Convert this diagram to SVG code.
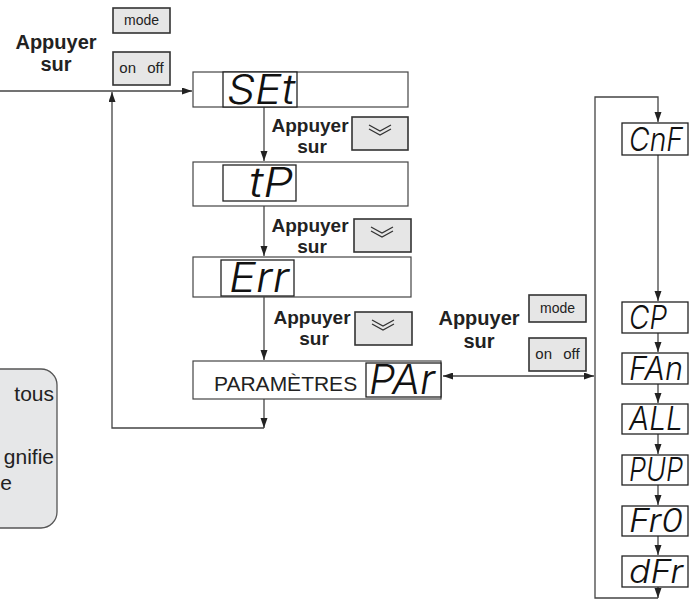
<svg xmlns="http://www.w3.org/2000/svg" width="697" height="608" viewBox="0 0 697 608">
<style>
.bg{fill:#ffffff}
.outer{fill:#ffffff;stroke:#444;stroke-width:1.2}
.disp{fill:#ffffff;stroke:#222;stroke-width:1.3}
.btn{fill:#e6e6e6;stroke:#333;stroke-width:1.6}
.note{fill:#e6e7e8;stroke:#555;stroke-width:1.3}
.conn{fill:none;stroke:#444;stroke-width:1.3}
.lbl{font-family:"Liberation Sans",Arial,sans-serif;font-weight:bold;font-size:19px;fill:#222;text-anchor:middle}
.btxt{font-family:"Liberation Sans",Arial,sans-serif;font-size:14px;fill:#222;text-anchor:middle}
.plain{font-family:"Liberation Sans",Arial,sans-serif;font-size:21px;fill:#222}
.seg{font-family:Inter,"Open Sans",sans-serif;font-weight:300;font-style:oblique;font-size:41px;fill:#111}
.segs{font-family:Inter,"Open Sans",sans-serif;font-weight:300;font-style:oblique;font-size:33px;fill:#111}
.chev{fill:none;stroke:#333;stroke-width:1.3}
</style>
<defs>
<marker id="ah" markerUnits="userSpaceOnUse" markerWidth="11" markerHeight="8" refX="10" refY="3.5" orient="auto">
<path d="M0,0 L10,3.5 L0,7 z" fill="#222"/>
</marker>
<marker id="ahs" markerUnits="userSpaceOnUse" markerWidth="11" markerHeight="8" refX="0" refY="3.5" orient="auto">
<path d="M10,0 L0,3.5 L10,7 z" fill="#222"/>
</marker>
</defs>
<rect class="bg" x="0" y="0" width="697" height="608"/>

<g id="note">
<rect class="note" x="-20" y="369" width="77" height="159" rx="16"/>
<text class="plain" x="54" y="401" text-anchor="end">tous</text>
<text class="plain" x="54" y="464" text-anchor="end">gnifie</text>
<text class="plain" x="12" y="490" text-anchor="end">e</text>
</g>

<g id="connectors">
<path class="conn" d="M0,91 H192" marker-end="url(#ah)"/>
<path class="conn" d="M264,428 H112 V92" marker-end="url(#ah)"/>
<path class="conn" d="M264,107 V161" marker-end="url(#ah)"/>
<path class="conn" d="M264,206 V256" marker-end="url(#ah)"/>
<path class="conn" d="M264,297 V360" marker-end="url(#ah)"/>
<path class="conn" d="M264,399 V428" marker-end="url(#ah)"/>
<path class="conn" d="M443,376 H594" marker-start="url(#ahs)" marker-end="url(#ah)"/>
<path class="conn" d="M658,598 H595 V97 H658 V122" marker-end="url(#ah)"/>
<path class="conn" d="M658,155 V301" marker-end="url(#ah)"/>
<path class="conn" d="M658,333 V352" marker-end="url(#ah)"/>
<path class="conn" d="M658,384 V403" marker-end="url(#ah)"/>
<path class="conn" d="M658,434 V454" marker-end="url(#ah)"/>
<path class="conn" d="M658,485 V505" marker-end="url(#ah)"/>
<path class="conn" d="M658,536 V555" marker-end="url(#ah)"/>
<path class="conn" d="M658,587 V598" marker-end="url(#ah)"/>
</g>

<g id="label-top">
<text class="lbl" x="56" y="49" style="font-size:20px">Appuyer</text>
<text class="lbl" x="56" y="71" style="font-size:20px">sur</text>
</g>
<g id="btn-mode-top">
<rect class="btn" x="113" y="8" width="57" height="25"/>
<text class="btxt" x="141.5" y="25">mode</text>
</g>
<g id="btn-onoff-top">
<rect class="btn" x="113" y="52" width="57" height="33"/>
<text class="btxt" x="141.5" y="73" style="font-size:15px;word-spacing:7px">on off</text>
</g>

<g id="n-set">
<rect class="outer" x="193" y="72" width="215" height="35"/>
<rect class="disp" x="223" y="72" width="74" height="35"/>
<text class="seg" x="227" y="104" textLength="68" lengthAdjust="spacingAndGlyphs">SEt</text>
</g>
<g id="step-1">
<text class="lbl" x="310" y="132">Appuyer</text>
<text class="lbl" x="312" y="153">sur</text>
<rect class="btn" x="352" y="117" width="56" height="33"/>
<polyline class="chev" points="369,125 380,131 391,125"/>
<polyline class="chev" points="369,129 380,135 391,129"/>
</g>

<g id="n-tp">
<rect class="outer" x="193" y="162" width="215" height="44"/>
<rect class="disp" x="223" y="165" width="73" height="36"/>
<text class="seg" x="249" y="197" textLength="44" lengthAdjust="spacingAndGlyphs">tP</text>
</g>
<g id="step-2">
<text class="lbl" x="310" y="232">Appuyer</text>
<text class="lbl" x="312" y="253">sur</text>
<rect class="btn" x="354" y="219" width="57" height="33"/>
<polyline class="chev" points="371,227 382,233 393,227"/>
<polyline class="chev" points="371,231 382,237 393,231"/>
</g>

<g id="n-err">
<rect class="outer" x="193" y="257" width="218" height="40"/>
<rect class="disp" x="221" y="260" width="73" height="36"/>
<text class="seg" x="229" y="292" textLength="60" lengthAdjust="spacingAndGlyphs">Err</text>
</g>
<g id="step-3">
<text class="lbl" x="312" y="324">Appuyer</text>
<text class="lbl" x="314" y="345">sur</text>
<rect class="btn" x="355" y="312" width="57" height="33"/>
<polyline class="chev" points="372,320 383,326 394,320"/>
<polyline class="chev" points="372,324 383,330 394,324"/>
</g>

<g id="n-par">
<rect class="outer" x="193" y="361" width="248" height="38"/>
<text class="plain" x="214" y="391">PARAMÈTRES</text>
<rect class="disp" x="366" y="363" width="75" height="34"/>
<text class="seg" x="369" y="394" textLength="66" lengthAdjust="spacingAndGlyphs">PAr</text>
</g>

<g id="label-right">
<text class="lbl" x="479" y="325" style="font-size:20px">Appuyer</text>
<text class="lbl" x="479" y="348" style="font-size:20px">sur</text>
</g>
<g id="btn-mode-right">
<rect class="btn" x="529" y="295" width="57" height="27"/>
<text class="btxt" x="557.5" y="313">mode</text>
</g>
<g id="btn-onoff-right">
<rect class="btn" x="529" y="338" width="57" height="33"/>
<text class="btxt" x="557.5" y="359" style="font-size:15px;word-spacing:7px">on off</text>
</g>

<g id="n-cnf">
<rect class="disp" x="622" y="123" width="66" height="32"/>
<text class="segs" x="629" y="151" textLength="54" lengthAdjust="spacingAndGlyphs">CnF</text>
</g>
<g id="n-cp">
<rect class="disp" x="622" y="302" width="66" height="31"/>
<text class="segs" x="629" y="329" textLength="38" lengthAdjust="spacingAndGlyphs">CP</text>
</g>
<g id="n-fan">
<rect class="disp" x="622" y="353" width="66" height="31"/>
<text class="segs" x="629" y="380" textLength="54" lengthAdjust="spacingAndGlyphs">FAn</text>
</g>
<g id="n-all">
<rect class="disp" x="622" y="404" width="66" height="30"/>
<text class="segs" x="629" y="430" textLength="54" lengthAdjust="spacingAndGlyphs">ALL</text>
</g>
<g id="n-pup">
<rect class="disp" x="622" y="455" width="66" height="30"/>
<text class="segs" x="629" y="481" textLength="54" lengthAdjust="spacingAndGlyphs">PUP</text>
</g>
<g id="n-fr0">
<rect class="disp" x="622" y="506" width="66" height="30"/>
<text class="segs" x="629" y="532" textLength="54" lengthAdjust="spacingAndGlyphs">Fr0</text>
</g>
<g id="n-dfr">
<rect class="disp" x="622" y="556" width="66" height="31"/>
<text class="segs" x="629" y="583" textLength="54" lengthAdjust="spacingAndGlyphs">dFr</text>
</g>
</svg>
